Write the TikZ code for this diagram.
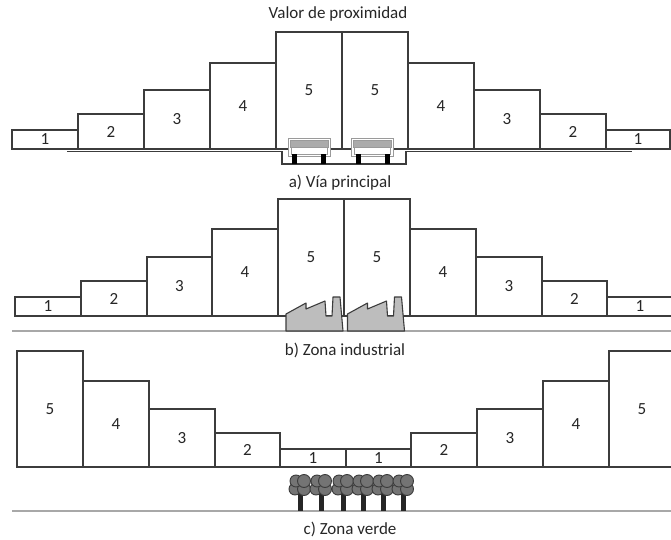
\documentclass[tikz,border=0pt]{standalone}
\usepackage{fontspec}
\setmainfont{Carlito}
\definecolor{linec}{HTML}{3C3C3C}
\definecolor{txtc}{HTML}{262626}
\definecolor{groundc}{HTML}{A8A8A8}
\definecolor{carc}{HTML}{9A9A9A}
\definecolor{roofc}{HTML}{ABABAB}
\definecolor{facc}{HTML}{BDBDBD}
\definecolor{treec}{HTML}{747474}
\begin{document}
\begin{tikzpicture}[x=1pt,y=-1pt,
  bx/.style={draw=linec, line width=1.3pt, fill=white, inner sep=0pt, text=txtc,
    font=\fontsize{17}{17}\selectfont},
  captxt/.style={text=txtc, inner sep=0pt, font=\fontsize{17}{17}\selectfont},
  roadline/.style={draw=linec, line width=1.2pt},
  groundline/.style={draw=groundc, line width=1.2pt},
  carline/.style={draw=carc, line width=1pt},
  car/.pic={
    \draw[carline, fill=white] (0,0) rectangle (42,18);
    \draw[carline, fill=roofc] (2,2) rectangle (40,9);
    \draw[carline] (3,9) -- (3,16) -- (39,16) -- (39,9);
    \fill[black] (4,15) rectangle (9,25);
    \fill[black] (33,15) rectangle (38,25);
  },
  factory/.pic={
    \draw[draw=linec, line width=1.1pt, fill=facc, line join=round]
      (0,0) -- (0,-17) -- (20,-28) -- (20,-22) -- (39,-30) -- (40,-15) -- (46,-15)
      -- (47,-34) -- (54,-34) -- (57,0) -- cycle;
  },
  tree/.pic={
    \fill[black!85] (-2.5,0) rectangle (2.5,-18);
    \foreach \cx/\cy/\r in {-5/-22/6, 4/-22/6.5, -4/-30/6, 4/-30/6.5}
      \draw[draw=linec, line width=0.9pt, fill=treec] (\cx,\cy) circle (\r);
  }]
\useasboundingbox (0,0) rectangle (671,540);

% ---------- a) Via principal ----------
\node[captxt, anchor=base] (title) at (338,18.5) {Valor de proximidad};
\node[bx, minimum width=66pt, minimum height=19pt]  (a1)  at (45,139.5)  {1};
\node[bx, minimum width=66pt, minimum height=35pt]  (a2)  at (111,131.5) {2};
\node[bx, minimum width=66pt, minimum height=59pt]  (a3)  at (177,119.5) {3};
\node[bx, minimum width=66pt, minimum height=86pt]  (a4)  at (243,106)   {4};
\node[bx, minimum width=66pt, minimum height=117pt] (a5)  at (309,90.5)  {5};
\node[bx, minimum width=66pt, minimum height=117pt] (a6)  at (375,90.5)  {5};
\node[bx, minimum width=66pt, minimum height=86pt]  (a7)  at (441,106)   {4};
\node[bx, minimum width=66pt, minimum height=59pt]  (a8)  at (507,119.5) {3};
\node[bx, minimum width=66pt, minimum height=35pt]  (a9)  at (573,131.5) {2};
\node[bx, minimum width=64pt, minimum height=19pt]  (a10) at (638,139.5) {1};
\coordinate (ra) at (67,151.5);
\coordinate (rb) at (282,151.5);
\coordinate (rc) at (282,164);
\coordinate (rd) at (406,164);
\coordinate (re) at (406,151.5);
\coordinate (rf) at (632,151.5);
\draw[roadline] (ra) -- (rb) -- (rc) -- (rd) -- (re) -- (rf);
\pic at (288,139) {car};
\pic at (351.5,139) {car};
\node[captxt, anchor=base] (capa) at (340,187) {a) Vía principal};

% ---------- b) Zona industrial ----------
\node[bx, minimum width=66pt, minimum height=19pt]  (b1)  at (48,306.5)  {1};
\node[bx, minimum width=66pt, minimum height=35pt]  (b2)  at (114,298.5) {2};
\node[bx, minimum width=65pt, minimum height=59pt]  (b3)  at (179.5,286.5) {3};
\node[bx, minimum width=66pt, minimum height=87pt]  (b4)  at (245,272.5) {4};
\node[bx, minimum width=66pt, minimum height=117pt] (b5)  at (311,257.5) {5};
\node[bx, minimum width=66pt, minimum height=117pt] (b6)  at (377,257.5) {5};
\node[bx, minimum width=66pt, minimum height=87pt]  (b7)  at (443,272.5) {4};
\node[bx, minimum width=66pt, minimum height=59pt]  (b8)  at (509,286.5) {3};
\node[bx, minimum width=65pt, minimum height=35pt]  (b9)  at (574.5,298.5) {2};
\node[bx, minimum width=66pt, minimum height=19pt]  (b10) at (640,306.5) {1};
\coordinate (gba) at (12,331);
\coordinate (gbb) at (671,331);
\draw[groundline] (gba) -- (gbb);
\pic at (286,331) {factory};
\pic at (347.5,331) {factory};
\node[captxt, anchor=base] (capb) at (345,355) {b) Zona industrial};

% ---------- c) Zona verde ----------
\node[bx, minimum width=66pt, minimum height=116pt] (c1)  at (50,409)    {5};
\node[bx, minimum width=66pt, minimum height=86pt]  (c2)  at (116,424)   {4};
\node[bx, minimum width=66pt, minimum height=58pt]  (c3)  at (182,438)   {3};
\node[bx, minimum width=65pt, minimum height=34pt]  (c4)  at (247.5,450) {2};
\node[bx, minimum width=66pt, minimum height=18pt]  (c5)  at (313,458)   {1};
\node[bx, minimum width=65pt, minimum height=18pt]  (c6)  at (378.5,458) {1};
\node[bx, minimum width=66pt, minimum height=34pt]  (c7)  at (444,450)   {2};
\node[bx, minimum width=66pt, minimum height=58pt]  (c8)  at (510,438)   {3};
\node[bx, minimum width=66pt, minimum height=86pt]  (c9)  at (576,424)   {4};
\node[bx, minimum width=66pt, minimum height=116pt] (c10) at (642,409)   {5};
\coordinate (gca) at (12,511);
\coordinate (gcb) at (671,511);
\draw[groundline] (gca) -- (gcb);
\foreach \tx in {300,321,343,363,383,403}
  \pic at (\tx,511) {tree};
\node[captxt, anchor=base] (capc) at (350,534) {c) Zona verde};
\end{tikzpicture}
\end{document}
